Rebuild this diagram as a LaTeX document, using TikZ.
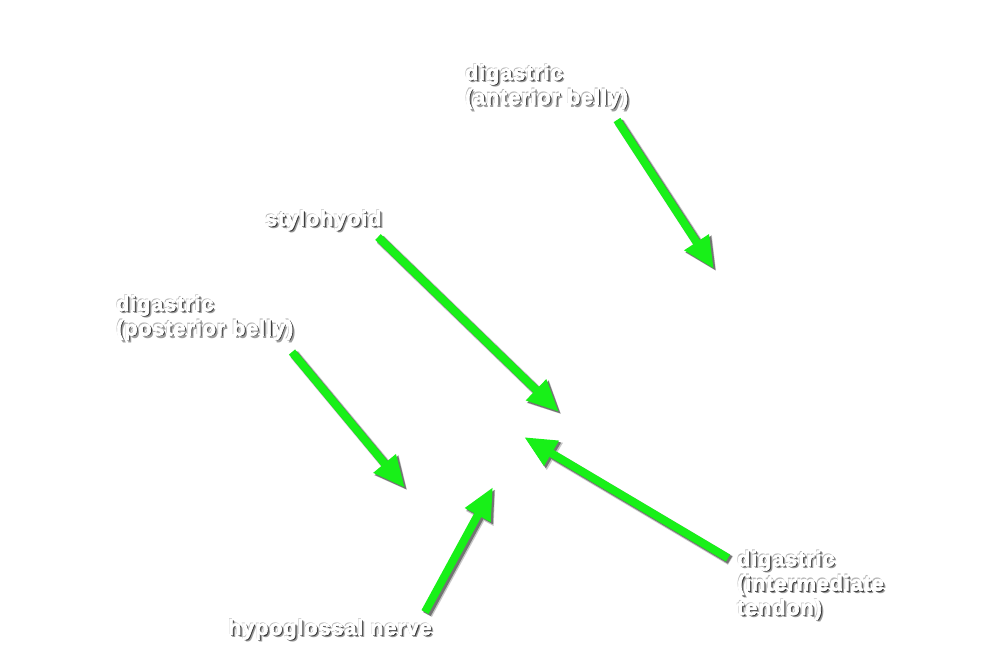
\documentclass[tikz,border=0pt]{standalone}
\usepackage{fontspec}
\setmainfont{Liberation Sans}[LetterSpace=4.5]
\usetikzlibrary{arrows.meta}
\definecolor{arrgreen}{RGB}{24,240,24}
\newcommand{\lblfont}{\fontsize{21.5}{22.5}\selectfont\bfseries}
\newcommand{\boldw}[1]{\special{pdf:literal direct 2 Tr 0.7 w 1 G}#1\special{pdf:literal direct 0 Tr}}
\newcommand{\shd}[1]{\makebox[0pt][l]{\hspace{2.6pt}\raisebox{-2.6pt}{\textcolor{black!38}{#1}}}\makebox[0pt][l]{\hspace{1.4pt}\raisebox{-1.4pt}{\textcolor{black!78}{#1}}}\makebox[0pt][l]{\hspace{-0.7pt}\raisebox{0.7pt}{\textcolor{black!28}{#1}}}\textcolor{white}{\boldw{#1}}}
\begin{document}
\begin{tikzpicture}[x=1pt,y=-1pt,
  lbl/.style={anchor=base west,inner sep=0pt,align=left,font=\lblfont},
  arr/.style={draw=arrgreen,line width=8pt,-{Triangle[length=32pt,width=27pt]}},
  arrsh/.style={draw=black!55,line width=8.5pt,-{Triangle[length=32pt,width=27.5pt]},transform canvas={shift={(2,2)}}},
  arrsh2/.style={draw=black!22,line width=10pt,-{Triangle[length=33pt,width=29pt]},transform canvas={shift={(2.5,2.5)}}}]
\useasboundingbox (0,0) rectangle (1000,664);
\fill[white] (0,0) rectangle (1000,664);
% labels (base anchor = baseline of last line)
\node[lbl] (ant) at (465,104.5) {\shd{digastric}\\\shd{(anterior belly)}};
\node[lbl] (sty) at (265,226) {\shd{stylohyoid}};
\node[lbl] (pos) at (116,335.5) {\shd{digastric}\\\shd{(posterior belly)}};
\node[lbl] (hyp) at (228,635) {\shd{hypoglossal nerve}};
\node[lbl] (int) at (737,615) {\shd{digastric}\\\shd{(intermediate}\\\shd{tendon)}};
% arrow ends
\coordinate (antS) at (617,120);
\coordinate (antT) at (714,269);
\coordinate (styS) at (378,237);
\coordinate (styT) at (559,412);
\coordinate (posS) at (292,352);
\coordinate (posT) at (405,488);
\coordinate (hypS) at (425,612);
\coordinate (hypT) at (493,487);
\coordinate (intS) at (728,558);
\coordinate (intT) at (524,437);
% shadows
\foreach \s/\t in {antS/antT,styS/styT,posS/posT,hypS/hypT,intS/intT}{
  \draw[arrsh2] (\s) -- (\t);
  \draw[arrsh] (\s) -- (\t);
}
% arrows
\foreach \s/\t in {antS/antT,styS/styT,posS/posT,hypS/hypT,intS/intT}{
  \draw[arr] (\s) -- (\t);
}
\end{tikzpicture}
\end{document}
